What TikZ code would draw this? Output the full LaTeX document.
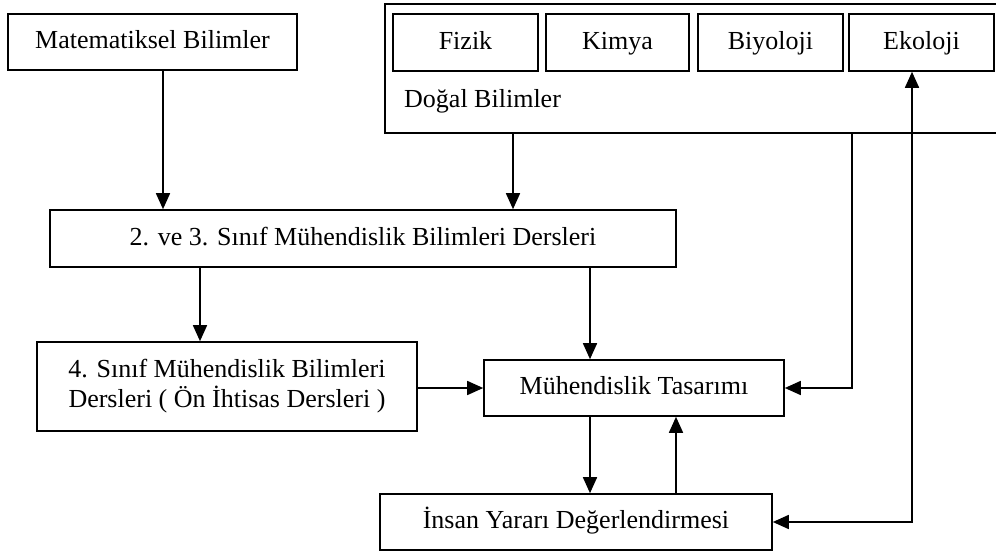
\documentclass[tikz,border=0pt]{standalone}
\usepackage{fontspec}
\setmainfont{Liberation Serif}
\usetikzlibrary{arrows.meta}
\tikzset{
  box/.style={draw, line width=1.6pt, inner sep=0pt, align=center, font=\fontsize{26}{30}\selectfont},
  onebox/.style={box, text height=18pt, text depth=5pt},
  conn/.style={line width=1.6pt, -{Triangle[length=16pt,width=14pt]}},
  biconn/.style={line width=1.6pt, {Triangle[length=16pt,width=14pt]}-{Triangle[length=16pt,width=14pt]}},
  plain/.style={line width=1.6pt}
}
\begin{document}
\begin{tikzpicture}[x=1pt,y=-1pt]
\useasboundingbox (0,0) rectangle (996,554);
\clip (0,0) rectangle (996,554);
\fill[white] (0,0) rectangle (996,554);
% outer box of natural sciences
\node[box, minimum width=625pt, minimum height=129pt, line width=2pt] (dogal) at (697,68.5) {};
\node[font=\fontsize{26}{30}\selectfont, anchor=west, inner sep=0pt, text height=18pt, text depth=5pt] (dogallbl) at (404,101) {Doğal Bilimler};
% boxes
\node[onebox, minimum width=289pt, minimum height=56pt] (mat) at (152.5,42) {Matematiksel Bilimler};
\node[onebox, minimum width=145pt, minimum height=57pt] (fizik) at (465.5,42.5) {Fizik};
\node[onebox, minimum width=143pt, minimum height=57pt] (kimya) at (617.5,42.5) {Kimya};
\node[onebox, minimum width=145pt, minimum height=57pt] (biyo) at (770.5,42.5) {Biyoloji};
\node[onebox, minimum width=145pt, minimum height=57pt] (eko) at (921.5,42.5) {Ekoloji};
\node[onebox, minimum width=626pt, minimum height=57pt] (d23) at (363,238.5) {2. ve 3. Sınıf Mühendislik Bilimleri Dersleri};
\node[box, minimum width=380pt, minimum height=89pt] (d4) at (227,386.5) {4. Sınıf Mühendislik Bilimleri\\Dersleri ( Ön İhtisas Dersleri )};
\node[onebox, minimum width=300pt, minimum height=56pt] (muh) at (634,388) {Mühendislik Tasarımı};
\node[onebox, minimum width=392pt, minimum height=56pt] (insan) at (576,522) {İnsan Yararı Değerlendirmesi};
% helper coordinates for connector columns
\coordinate (c1) at (163,0);
\coordinate (c2) at (513,0);
\coordinate (c3) at (200,0);
\coordinate (c4) at (590,0);
\coordinate (c5) at (852,0);
\coordinate (c6) at (676,0);
\coordinate (c7) at (912,0);
% connectors
\draw[conn] (mat.south -| c1) -- (d23.north -| c1);
\draw[conn] (dogal.south -| c2) -- (d23.north -| c2);
\draw[conn] (d23.south -| c3) -- (d4.north -| c3);
\draw[conn] (d23.south -| c4) -- (muh.north -| c4);
\draw[conn] (d4.east |- muh.west) -- (muh.west);
\draw[conn] (dogal.south -| c5) |- (muh.east);
\draw[conn] (muh.south -| c4) -- (insan.north -| c4);
\draw[conn] (insan.north -| c6) -- (muh.south -| c6);
\draw[biconn] (insan.east) -| (eko.south -| c7);
\end{tikzpicture}
\end{document}
